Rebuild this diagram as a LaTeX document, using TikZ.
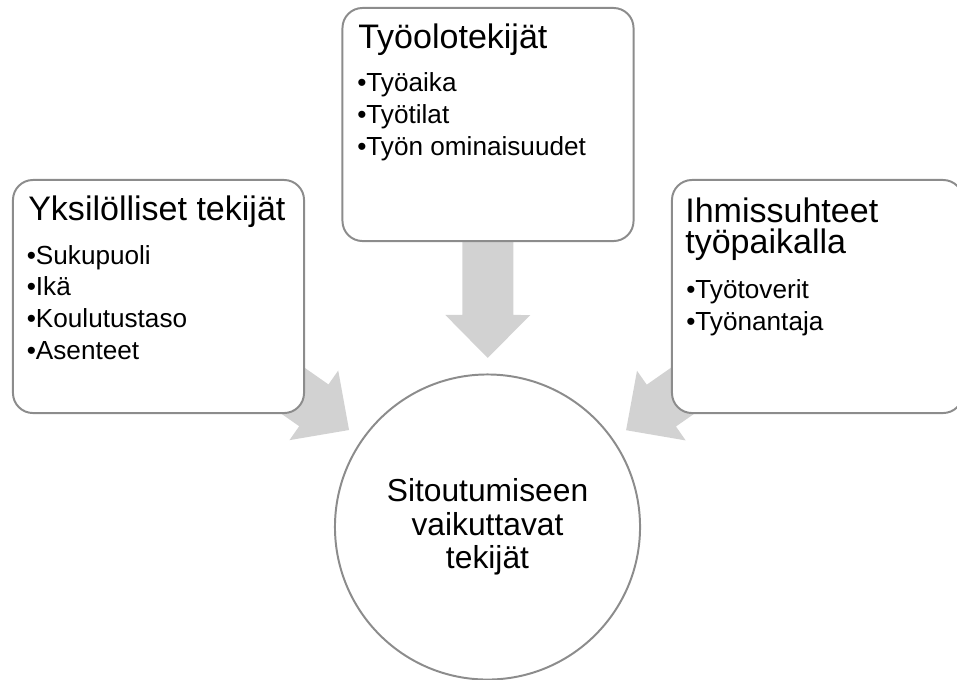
\documentclass[tikz,border=0pt]{standalone}
\usepackage{fontspec}
\setmainfont{Liberation Sans}
\usetikzlibrary{positioning,calc,backgrounds}
\definecolor{edgegray}{RGB}{140,140,140}
\definecolor{arrowgray}{RGB}{210,210,210}
\begin{document}
\begin{tikzpicture}[x=0.025cm,y=-0.025cm,
                    factor box/.style={rectangle,rounded corners=0.5cm,draw=edgegray,fill=white,
                                       line width=1.4pt,minimum width=7.275cm,minimum height=5.825cm,
                                       inner sep=0pt},
                    main node/.style={circle,draw=edgegray,fill=white,line width=1.4pt,
                                      minimum size=7.625cm,inner sep=0pt,align=center,
                                      font=\fontsize{22.6pt}{23.8pt}\selectfont},
                    head text/.style={anchor=base west,inner sep=0pt,align=left,
                                      font=\fontsize{24.2pt}{22pt}\selectfont},
                    item text/.style={anchor=base west,inner sep=0pt,align=left,
                                      font=\fontsize{18.6pt}{22.5pt}\selectfont}
                   ]
   \useasboundingbox (0,0) rectangle (957,679);
   \clip (0,0) rectangle (957,679);
   % boxes
   \node[factor box] (yks) at (158.5,296.5) {};
   \node[factor box] (tyo) at (488,124.5) {};
   \node[factor box] (ihm) at (817.5,296.5) {};
   \node[main node] (mid) at (487.5,527) {Sitoutumiseen\\vaikuttavat\\tekijät};
   % texts (base = last line)
   \node[head text] (yksT) at (28,220) {Yksilölliset tekijät};
   \node[item text] (yksL) at (26.5,359) {•Sukupuoli\\•Ikä\\•Koulutustaso\\•Asenteet};
   \node[head text] (tyoT) at (358,48) {Työolotekijät};
   \node[item text] (tyoL) at (357,155) {•Työaika\\•Työtilat\\•Työn ominaisuudet};
   \node[head text] (ihmT) at (685,253) {Ihmissuhteet\\työpaikalla};
   \node[item text] (ihmL) at (686,330) {•Työtoverit\\•Työnantaja};
   % arrows
   \begin{pgfonlayer}{background}
   \foreach \b in {yks,tyo,ihm}{
     \coordinate (tip) at ($(mid.center)!4.225cm!(\b.center)$);
     \coordinate (hb) at ($(tip)!1.075cm!(\b.center)$);
     \fill[arrowgray] ($(\b.center)!0.6375cm!90:(tip)$) -- ($(hb)!0.6375cm!90:(tip)$)
        -- ($(hb)!1.0625cm!90:(tip)$) -- (tip) -- ($(hb)!1.0625cm!-90:(tip)$)
        -- ($(hb)!0.6375cm!-90:(tip)$) -- ($(\b.center)!0.6375cm!-90:(tip)$) -- cycle;
   }
   \end{pgfonlayer}
 \end{tikzpicture}
\end{document}
